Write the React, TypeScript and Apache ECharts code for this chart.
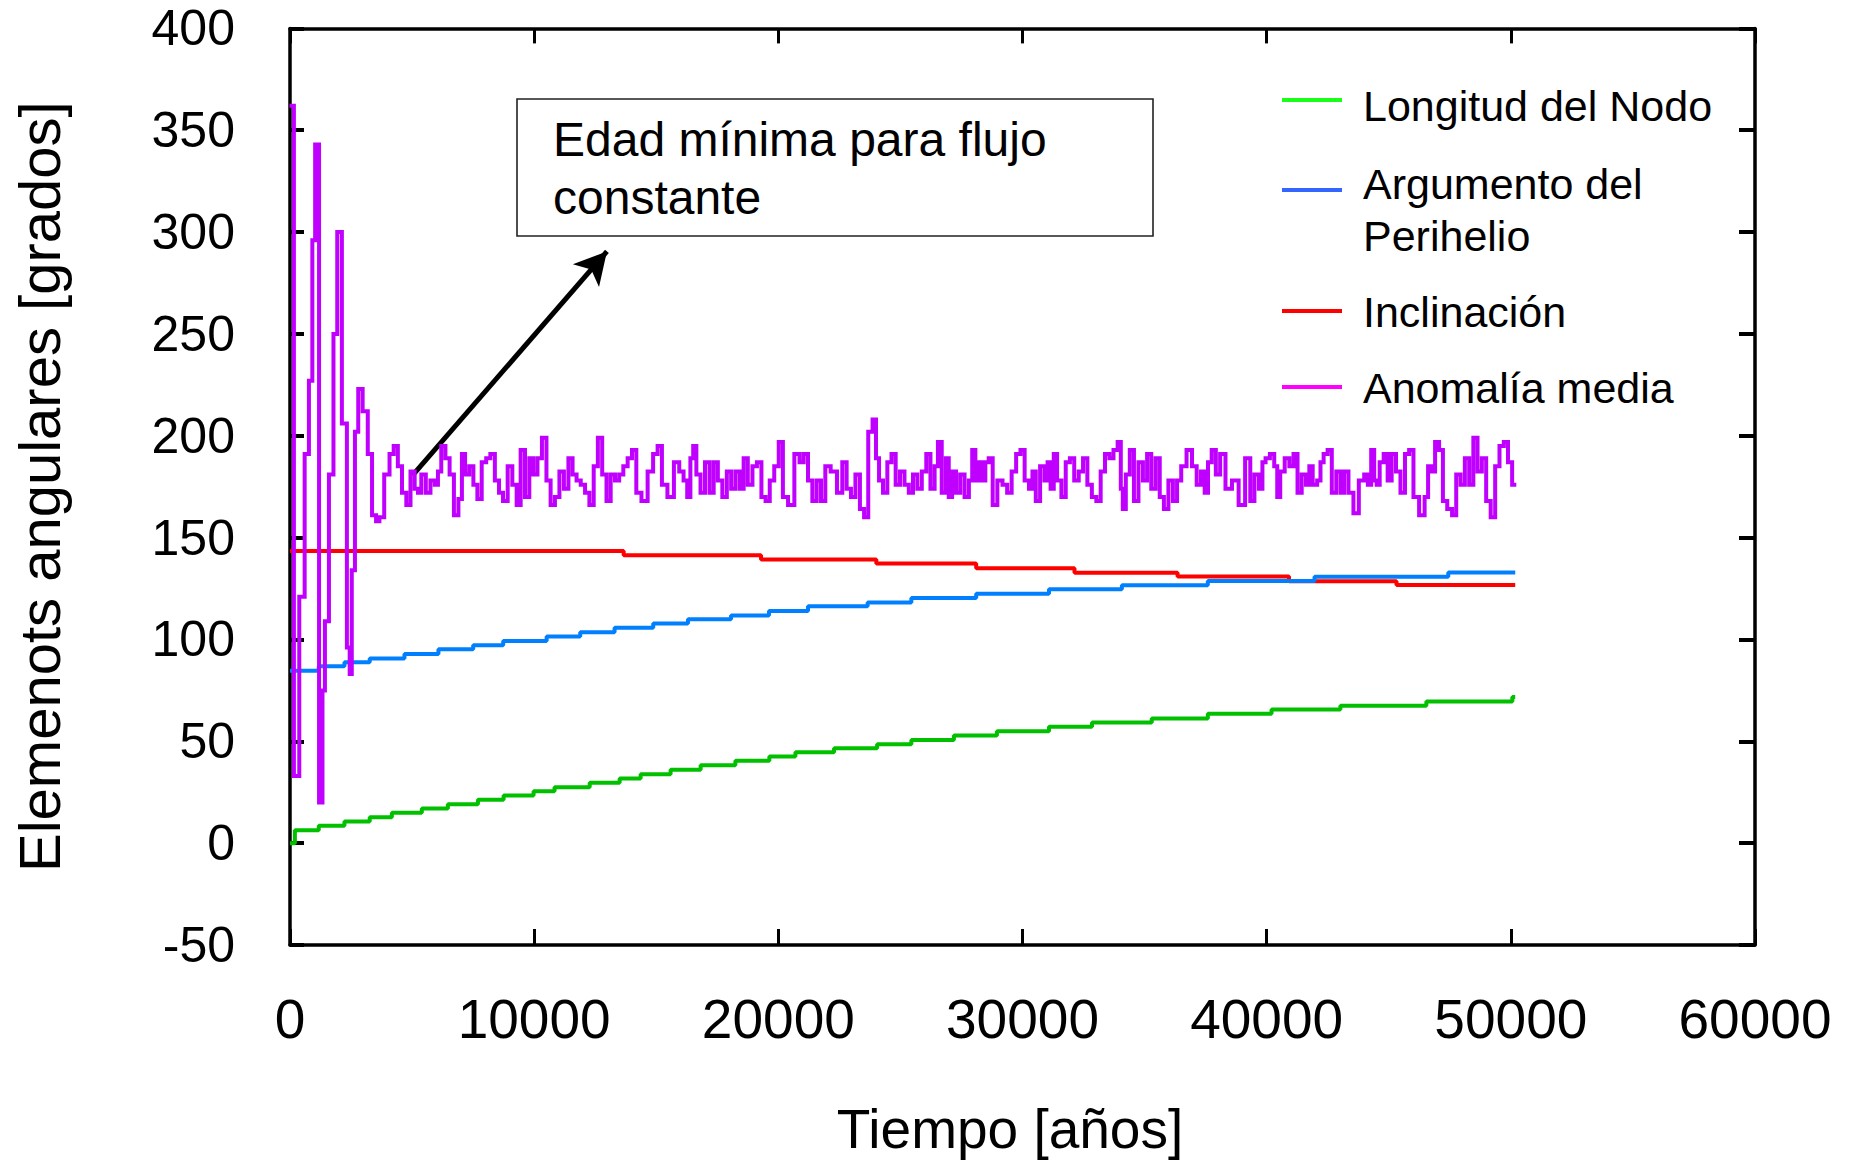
import React, { useEffect, useRef } from "react";
import * as echarts from "echarts";

// ---------- DATA ----------
const xTicks = [0, 10000, 20000, 30000, 40000, 50000, 60000];
const yTicks = [-50, 0, 50, 100, 150, 200, 250, 300, 350, 400];

// Longitud del Nodo (step levels: start year of each level, value)
const nodoYears = [0, 200, 1178, 2230, 3265, 4172, 5399, 6466, 7697, 8748, 9976, 10834, 12274, 13501, 14360, 15587, 16818, 18241, 19632, 20700, 22282, 24046, 25448, 27190, 28953, 31085, 32847, 35293, 37590, 40200, 43019, 46540, 50062, 50180];
const nodoValues = [0, 6.3, 8.5, 10.6, 12.7, 14.9, 17.0, 19.1, 21.3, 23.4, 25.5, 27.4, 29.6, 31.7, 33.8, 36.0, 38.3, 40.4, 42.5, 44.6, 46.6, 48.5, 50.7, 52.8, 54.9, 57.1, 59.2, 61.2, 63.5, 65.6, 67.5, 69.5, 71.8, 71.8];

// Argumento del Perihelio
const periYears = [0, 1178, 2230, 3265, 4688, 6079, 7502, 8732, 10511, 11886, 13293, 14876, 16299, 18062, 19616, 21216, 23657, 25448, 28103, 31085, 34070, 37590, 41960, 47437, 50180];
const periValues = [84.6, 86.8, 88.8, 90.7, 92.9, 95.2, 97.1, 99.3, 101.4, 103.5, 105.7, 107.8, 109.9, 111.8, 114.0, 116.3, 118.2, 120.4, 122.5, 124.6, 126.6, 128.7, 130.8, 132.9, 132.9];

// Inclinación
const inclYears = [0, 13665, 19292, 24013, 28103, 32130, 36352, 40916, 45318, 50180];
const inclValues = [143.4, 141.4, 139.2, 137.3, 135.0, 132.8, 130.9, 128.6, 126.7, 126.7];

// Anomalía media
const anomYears = [
  60, 260, 500, 700, 850, 980, 1080, 1300, 1360, 1500, 1690, 1870, 2000, 2250, 2410, 2480, 2580, 2740, 2850, 3100, 3270, 3450, 3600,
  3722, 3995, 4158, 4335, 4499, 4676, 4853, 5017, 5194, 5289, 5467, 5657, 5848, 6012, 6107, 6284, 6448, 6625, 6802, 6993, 7089, 7252,
  7429, 7593, 7756, 7947, 8124, 8288, 8493, 8629, 8820, 9010, 9201, 9365, 9528, 9719, 9883, 10046, 10223, 10414, 10592, 10755, 10946,
  11123, 11314, 11491, 11655, 11818, 11995, 12173, 12350, 12527, 12691, 12881, 13045, 13222, 13399, 13563, 13740, 13917, 14095, 14272,
  14517, 14776, 14967, 15144, 15321, 15594, 15853, 16030, 16207, 16330, 16466, 16561, 16725, 16902, 17093, 17270, 17434, 17611, 17802,
  17979, 18156, 18333, 18511, 18647, 18851, 19028, 19219, 19396, 19560, 19737, 19928, 20105, 20269, 20527, 20786, 20950, 21127, 21305,
  21482, 21659, 21836, 22013, 22272, 22531, 22708, 22886, 23063, 23253, 23430, 23594, 23771, 23949, 24050,
  24199, 24376, 24553, 24717, 24894, 25071, 25262, 25426, 25603, 25780, 25971, 26148, 26312, 26489, 26584, 26800, 26925, 27034, 27198,
  27361, 27538, 27716, 27893, 27988, 28152, 28234, 28424, 28533, 28697, 28861, 29079, 29283, 29460, 29651, 29828, 30006, 30169, 30360,
  30455, 30632, 30810, 30987, 31069, 31232, 31328, 31505, 31682, 31859, 32023, 32214, 32391, 32568, 32745, 32936, 33113, 33290, 33468,
  33645, 33808, 33985, 34067, 34149, 34313, 34476, 34653, 34844, 35021, 35185, 35362, 35539, 35703, 35880, 36071, 36248, 36412, 36589,
  36848, 37038, 37229, 37393, 37530, 37666, 37830, 38006, 38184, 38443, 38715, 38988, 39247, 39410, 39587, 39778, 39874, 40037, 40228,
  40392, 40474, 40637, 40841, 41018, 41182, 41346, 41523, 41700, 41796, 41973, 42163, 42245, 42421, 42572, 42763, 42940, 43118, 43227,
  43472, 43636, 43913, 44076, 44213, 44349, 44458, 44554, 44703, 44881, 45030, 45208, 45385, 45576, 45753, 45917, 46107, 46380, 46557,
  46666, 46830, 46966, 47157, 47280, 47511, 47675, 47852, 48029, 48206, 48383, 48547, 48724, 48901, 49079, 49270, 49447, 49624, 49801,
  49965, 50142,
];
const anomValues = [
  362, 33, 121, 191, 227, 296, 343, 20, 75, 109, 181, 250, 300, 206, 96, 83, 134, 202, 223, 212, 191, 161, 158,
  160, 181, 191, 195, 185, 172, 166, 182.5, 174, 172, 181, 172, 178, 176, 182.5, 195, 189, 181, 161, 169, 191, 181,
  185, 176, 169, 187, 189, 191, 178, 172, 168, 185, 176, 166, 193, 170, 189, 181, 189, 199, 178, 166, 170,
  182.5, 174, 189, 181, 178, 176, 172, 166, 185, 199, 181, 168, 181, 178, 181, 185, 189, 193, 172,
  168, 182.5, 191, 195, 176, 170, 187, 182.5, 178, 170, 189, 195, 181, 172, 187, 172, 187, 178, 170,
  182.5, 174, 182.5, 174, 189, 176, 185, 187, 170, 168, 178, 185, 197, 170, 166, 191, 187, 191, 178,
  168, 178, 168, 185, 182.5, 172, 187, 174, 170, 181, 164, 160, 202, 208, 189,
  178, 172, 187, 191, 176, 182.5, 176, 172, 181, 174, 182.5, 191, 174, 185, 197, 172, 189, 170, 182.5,
  172, 181, 170, 178, 193, 178, 187, 178, 187, 189, 166, 178, 176, 172, 182.5, 191, 193, 178, 174,
  182.5, 168, 185, 178, 187, 174, 191, 178, 170, 187, 189, 178, 182.5, 189, 176, 170, 168, 182.5, 191,
  189, 193, 197, 174, 164, 181, 193, 168, 187, 178, 191, 174, 189, 170, 164, 178, 168, 178, 185,
  193, 185, 176, 182.5, 172, 187, 193, 181, 191, 174, 178, 166, 189, 168, 181, 174, 187, 189, 191,
  185, 170, 182.5, 189, 185, 191, 172, 181, 176, 185, 176, 178, 187, 191, 193, 172, 182.5, 172, 182.5,
  172, 162, 178, 181, 176, 193, 178, 176, 187, 191, 178, 191, 182.5, 172, 191, 193, 170, 161, 170,
  185, 182.5, 197, 193, 168, 164, 161, 181, 176, 189, 176, 199, 182.5, 189, 168, 160, 185, 195, 197,
  187, 176,
];

// Annotation arrow (data coordinates: [year, degrees])
const arrowStart = [5018, 180.6];
const arrowEnd = [12980, 290.5];

const legendNames = ["Longitud del Nodo", "Argumento del", "Perihelio", "Inclinación", "Anomalía media"];
const annotationLines = ["Edad mínima para flujo", "constante"];

const FONT = "'Liberation Sans', Arial, Helvetica, sans-serif";

const pairs = (xs: number[], ys: number[]) => xs.map((x, i) => [x, ys[i]]);

export default function App() {
  const ref = useRef<HTMLDivElement>(null);

  useEffect(() => {
    if (!ref.current) return;
    const chart = echarts.init(ref.current, undefined, { renderer: "svg" });

    const axisLine = { show: true, onZero: false, lineStyle: { color: "#000", width: 3.5 } };
    const xBase = {
      type: "value" as const,
      min: xTicks[0],
      max: xTicks[xTicks.length - 1],
      interval: xTicks[1] - xTicks[0],
      splitLine: { show: false },
      axisLine,
    };
    const yBase = {
      type: "value" as const,
      min: yTicks[0],
      max: yTicks[yTicks.length - 1],
      interval: yTicks[1] - yTicks[0],
      splitLine: { show: false },
      axisLine,
    };

    const option: any = {
      animation: false,
      backgroundColor: "#fff",
      grid: { left: 290, top: 28.4, width: 1465, height: 918, containLabel: false },
      xAxis: [
        {
          ...xBase,
          position: "bottom",
          axisTick: { show: true, inside: true, length: 16, lineStyle: { color: "#000", width: 3 } },
          axisLabel: {
            show: true,
            color: "#000",
            fontFamily: FONT,
            fontSize: 55,
            margin: 46,
            formatter: (v: number) => String(v),
          },
          name: "Tiempo [años]",
          nameLocation: "middle",
          nameGap: 156,
          nameTextStyle: { color: "#000", fontFamily: FONT, fontSize: 55, padding: [0, 25, 0, 0] },
        },
        {
          ...xBase,
          position: "top",
          axisTick: { show: true, inside: true, length: 15, lineStyle: { color: "#000", width: 3 } },
          axisLabel: { show: false },
        },
      ],
      yAxis: [
        {
          ...yBase,
          position: "left",
          axisTick: { show: true, inside: true, length: 14, lineStyle: { color: "#000", width: 4 } },
          axisLabel: { show: true, color: "#000", fontFamily: FONT, fontSize: 50, lineHeight: 44, margin: 55 },
          name: "Elemenots angulares [grados]",
          nameLocation: "middle",
          nameGap: 222,
          nameTextStyle: { color: "#000", fontFamily: FONT, fontSize: 58 },
        },
        {
          ...yBase,
          position: "right",
          axisTick: { show: true, inside: true, length: 16, lineStyle: { color: "#000", width: 4 } },
          axisLabel: { show: false },
        },
      ],
      series: [
        {
          name: "Longitud del Nodo",
          type: "line",
          step: "end",
          data: pairs(nodoYears, nodoValues),
          showSymbol: false,
          symbol: "none",
          lineStyle: { color: "#00c000", width: 4 },
          itemStyle: { color: "#00c000" },
          z: 2,
        },
        {
          name: "Inclinación",
          type: "line",
          step: "end",
          data: pairs(inclYears, inclValues),
          showSymbol: false,
          symbol: "none",
          lineStyle: { color: "#ff0000", width: 4 },
          itemStyle: { color: "#ff0000" },
          z: 3,
        },
        {
          name: "Argumento del Perihelio",
          type: "line",
          step: "end",
          data: pairs(periYears, periValues),
          showSymbol: false,
          symbol: "none",
          lineStyle: { color: "#0080ff", width: 4 },
          itemStyle: { color: "#0080ff" },
          z: 4,
        },
        {
          name: "Anomalía media",
          type: "line",
          step: "middle",
          data: pairs(anomYears, anomValues),
          showSymbol: false,
          symbol: "none",
          lineStyle: { color: "#bf00ff", width: 4, join: "miter", cap: "square" },
          itemStyle: { color: "#bf00ff" },
          z: 5,
          markLine: {
            silent: true,
            animation: false,
            symbol: ["none", "arrow"],
            symbolSize: [26, 32],
            label: { show: false },
            lineStyle: { color: "#000", width: 5, type: "solid" },
            data: [[{ coord: arrowStart }, { coord: arrowEnd }]],
          },
        },
      ],
      graphic: [
        // legend
        { type: "line", shape: { x1: 1282, y1: 100, x2: 1342, y2: 100 }, style: { stroke: "#1aff1a", lineWidth: 4 } },
        { type: "line", shape: { x1: 1282, y1: 190, x2: 1342, y2: 190 }, style: { stroke: "#3366ff", lineWidth: 4 } },
        { type: "line", shape: { x1: 1282, y1: 311, x2: 1342, y2: 311 }, style: { stroke: "#ff0000", lineWidth: 4 } },
        { type: "line", shape: { x1: 1282, y1: 387, x2: 1342, y2: 387 }, style: { stroke: "#ff00ff", lineWidth: 4 } },
        { type: "text", x: 1363, y: 106, style: { text: legendNames[0], fontFamily: FONT, fontSize: 43, fill: "#000", verticalAlign: "middle" } },
        { type: "text", x: 1363, y: 184, style: { text: legendNames[1], fontFamily: FONT, fontSize: 43, fill: "#000", verticalAlign: "middle" } },
        { type: "text", x: 1363, y: 236, style: { text: legendNames[2], fontFamily: FONT, fontSize: 43, fill: "#000", verticalAlign: "middle" } },
        { type: "text", x: 1363, y: 312, style: { text: legendNames[3], fontFamily: FONT, fontSize: 43, fill: "#000", verticalAlign: "middle" } },
        { type: "text", x: 1363, y: 388, style: { text: legendNames[4], fontFamily: FONT, fontSize: 43, fill: "#000", verticalAlign: "middle" } },
        // annotation box
        { type: "rect", shape: { x: 517, y: 99, width: 636, height: 137 }, style: { fill: "#fff", stroke: "#222", lineWidth: 1.6 }, z: 10 },
        { type: "text", x: 553, y: 139, z: 11, style: { text: annotationLines[0], fontFamily: FONT, fontSize: 48, fill: "#000", verticalAlign: "middle" } },
        { type: "text", x: 553, y: 197, z: 11, style: { text: annotationLines[1], fontFamily: FONT, fontSize: 48, fill: "#000", verticalAlign: "middle" } },
      ],
    };

    chart.setOption(option);
    return () => chart.dispose();
  }, []);

  return <div ref={ref} style={{ position: "absolute", left: 0, top: 0, width: 1850, height: 1161 }} />;
}
